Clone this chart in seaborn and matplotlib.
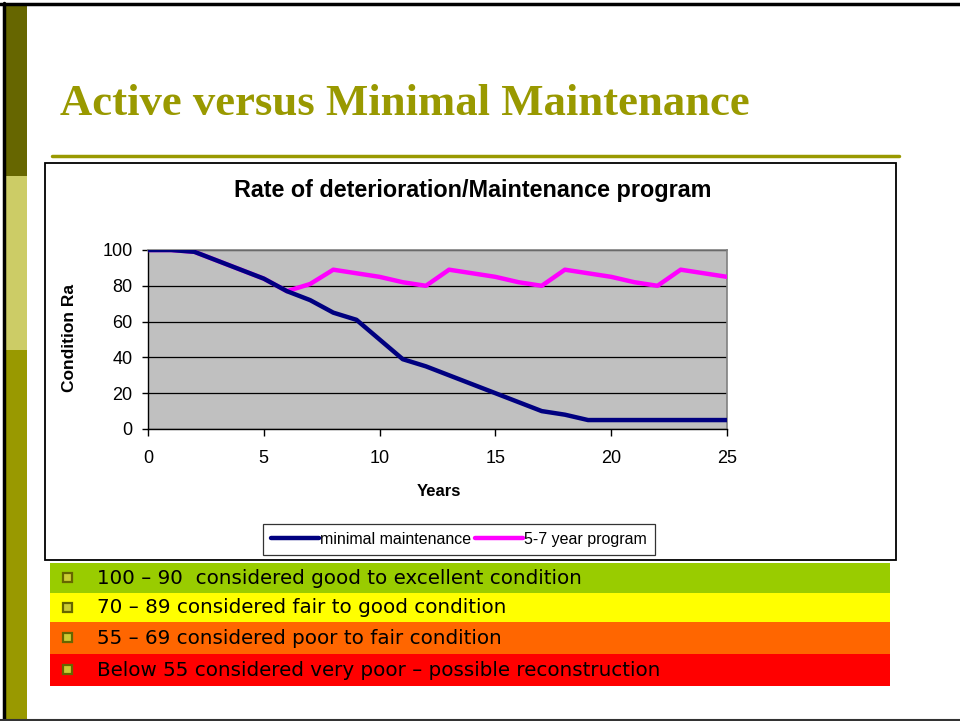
import pandas as pd
import seaborn as sns
import matplotlib.pyplot as plt
from matplotlib.patches import Rectangle
from matplotlib.lines import Line2D

# data (condition rating per year)
years = list(range(0, 26))
minimal = [100, 100, 99, 94, 89, 84, 77, 72, 65, 61, 50, 39, 35, 30, 25, 20,
           15, 10, 8, 5, 5, 5, 5, 5, 5, 5]
program = [100, 100, 99, 94, 89, 84, 77, 81, 89, 87, 85, 82, 80, 89, 87, 85,
           82, 80, 89, 87, 85, 82, 80, 89, 87, 85]
series_names = ["minimal maintenance", "5-7 year program"]
series_colors = ["#000080", "#FF00FF"]

y_ticks = [0, 20, 40, 60, 80, 100]
x_ticks = [0, 5, 10, 15, 20, 25]

rows = ["100 \u2013 90  considered good to excellent condition",
        "70 \u2013 89 considered fair to good condition",
        "55 \u2013 69 considered poor to fair condition",
        "Below 55 considered very poor \u2013 possible reconstruction"]
row_colors = ["#99CC00", "#FFFF00", "#FF6600", "#FF0000"]

df = pd.DataFrame({
    "year": years * 2,
    "rating": minimal + program,
    "series": [series_names[0]] * len(years) + [series_names[1]] * len(years),
})

W, H = 960, 721
sns.set_theme(style="white")
plt.rcParams['font.family'] = ['Liberation Sans', 'DejaVu Sans']
plt.rcParams.update({"text.color": "black", "xtick.color": "black",
                     "ytick.color": "black", "axes.labelcolor": "black"})

fig = plt.figure(figsize=(W / 100, H / 100), dpi=100)


def fx(x):
    return x / W


def fy(y):
    return 1 - y / H


def box(x0, y0, x1, y1, **kw):
    fig.patches.append(Rectangle((fx(x0), fy(y1)), fx(x1) - fx(x0), (y1 - y0) / H,
                                 transform=fig.transFigure, **kw))


# slide decoration
box(5, 4, 27, 176, facecolor="#666600", lw=0)
box(5, 176, 27, 350, facecolor="#CCCC66", lw=0)
box(5, 350, 27, 719, facecolor="#999900", lw=0)
fig.add_artist(Line2D([0, 1], [fy(4), fy(4)], color="black", lw=2.5, transform=fig.transFigure))
fig.add_artist(Line2D([fx(4), fx(4)], [fy(3), fy(720)], color="black", lw=2.5, transform=fig.transFigure))
fig.add_artist(Line2D([0, 1], [fy(719.5), fy(719.5)], color="#333333", lw=1.5, transform=fig.transFigure))

fig.text(fx(60), fy(115), "Active versus Minimal Maintenance", family="Liberation Serif",
         fontweight="bold", fontsize=32.2, color="#999900", va="baseline", ha="left")
fig.add_artist(Line2D([fx(52), fx(899)], [fy(155.5), fy(155.5)], color="#999900", lw=2.5,
                      transform=fig.transFigure))

# chart frame
box(45, 163, 896, 560, facecolor="white", edgecolor="black", lw=1.3, zorder=0)

# plot area
ax = fig.add_axes([fx(148), fy(429), fx(727) - fx(148), (429 - 250) / H])
ax.set_zorder(3)
sns.lineplot(data=df, x="year", y="rating", hue="series", palette=series_colors,
             linewidth=3.2, ax=ax, legend=False)
ax.lines[0].set_zorder(4)
ax.lines[1].set_zorder(3)
for ln in ax.lines:
    ln.set_solid_joinstyle("round")
    ln.set_solid_capstyle("round")
ax.set_facecolor("#C0C0C0")
ax.set_xlim(0, 25)
ax.set_ylim(0, 100)
ax.set_xticks(x_ticks)
ax.set_yticks(y_ticks)
ax.yaxis.grid(True, color="black", lw=0.9)
ax.xaxis.grid(False)
ax.set_axisbelow(True)
for s in ["top", "right"]:
    ax.spines[s].set_color("#808080")
    ax.spines[s].set_linewidth(1.2)
for s in ["left", "bottom"]:
    ax.spines[s].set_color("black")
    ax.spines[s].set_linewidth(1.0)
ax.tick_params(axis="x", direction="out", length=5, width=1, color="black",
               pad=10, labelsize=13)
ax.tick_params(axis="y", direction="out", length=4.5, width=1, color="black",
               pad=6.5, labelsize=13)
ax.tick_params(bottom=True, left=True)
ax.set_xlabel("")
ax.set_ylabel("")

fig.text(fx(473), fy(190), "Rate of deterioration/Maintenance program", fontsize=16.8,
         fontweight="bold", ha="center", va="center")
fig.text(fx(439), fy(492), "Years", fontsize=12, fontweight="bold", ha="center", va="center")
fig.text(fx(69), fy(338), "Condition Ra", fontsize=12.5, fontweight="bold", rotation=90,
         ha="center", va="center")

handles = [Line2D([], [], color=c, lw=3.2) for c in series_colors]
leg = fig.legend(handles, series_names, loc="center", bbox_to_anchor=(fx(459), fy(539.5)),
                 ncol=2, frameon=True, fancybox=False, handlelength=3.0, handletextpad=0.1,
                 columnspacing=0.2, borderpad=0.5,
                 prop={"family": ["Liberation Sans Narrow", "Liberation Sans"], "size": 11.5})
leg.get_frame().set_edgecolor("black")
leg.get_frame().set_linewidth(0.9)
leg.set_zorder(4)

# condition bands
tops = [563, 593, 622, 654]
bottoms = [593, 622, 654, 686]
for txt, col, t, b in zip(rows, row_colors, tops, bottoms):
    box(50, t, 890, b, facecolor=col, lw=0)
    c = (t + b) / 2
    box(63, c - 5, 72, c + 4, facecolor="#CCCC33", edgecolor="#666600", lw=1.6)
    fig.text(fx(97), fy(c), txt, family="DejaVu Sans", fontsize=14.3, color="black",
             ha="left", va="center")

fig.savefig("out.png", dpi=100)
